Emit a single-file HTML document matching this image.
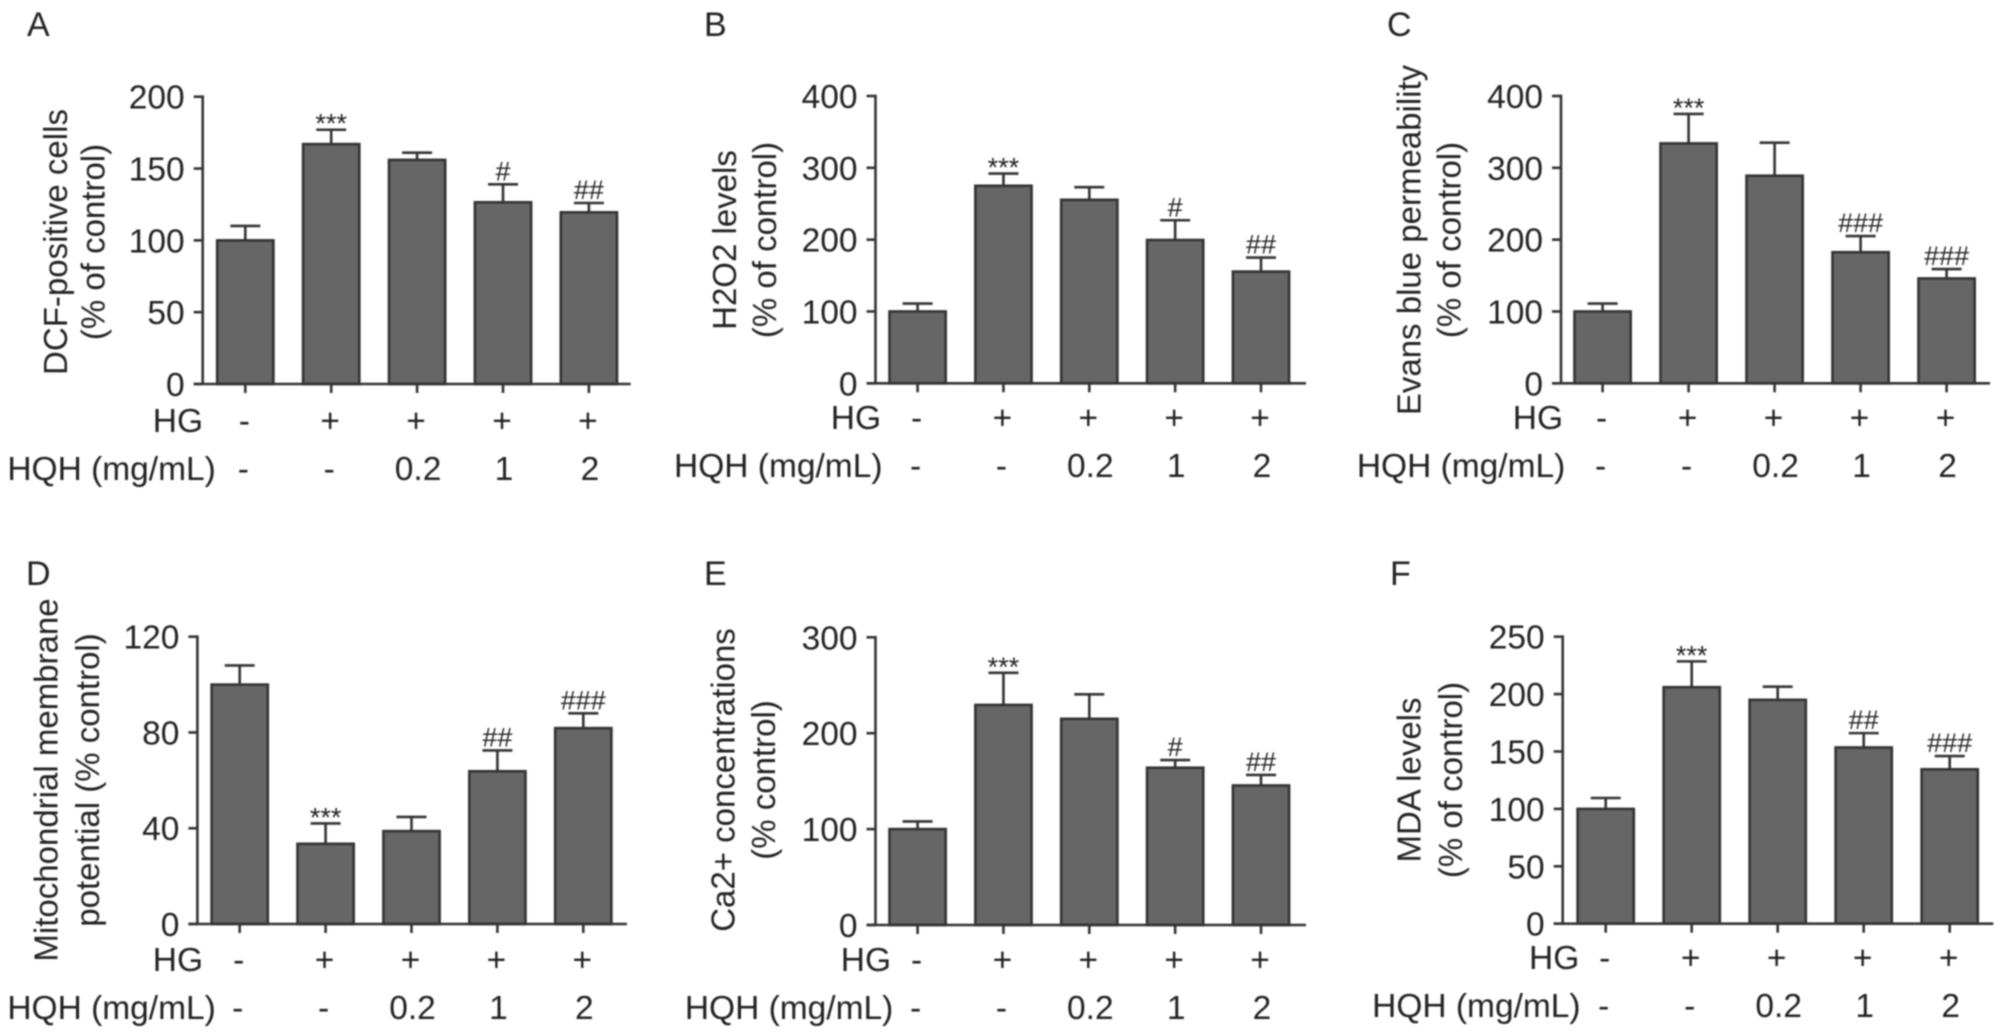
<!DOCTYPE html>
<html lang="en">
<head>
<meta charset="utf-8">
<title>HQH effects on oxidative stress markers</title>
<style>
  html, body { margin: 0; padding: 0; background: #fff; }
  body { width: 2004px; height: 1036px; overflow: hidden; }
  svg { display: block; filter: blur(0.75px); }
  text { font-family: "Liberation Sans", sans-serif; fill: #222222; }
</style>
</head>
<body>
<svg id="figure" xmlns="http://www.w3.org/2000/svg" width="2004" height="1036" viewBox="0 0 2004 1036"></svg>
<script>
const hgLabels = ['-', '+', '+', '+', '+'];
const hqhLabels = ['-', '-', '0.2', '1', '2'];

const aValues = [100, 167, 156, 126.5, 119.5];
const aErrors = [10, 10, 5, 12.5, 6.5];
const aTicks = [0, 50, 100, 150, 200];
const aSig = ['', '***', '', '#', '##'];

const bValues = [100, 275, 255.5, 199.5, 155.5];
const bErrors = [11, 17, 17.5, 27.5, 19.5];
const bTicks = [0, 100, 200, 300, 400];
const bSig = ['', '***', '', '#', '##'];

const cValues = [100, 334, 289, 182.5, 146];
const cErrors = [11, 41, 46, 22.5, 13];
const cTicks = [0, 100, 200, 300, 400];
const cSig = ['', '***', '', '###', '###'];

const dValues = [100, 33.5, 38.8, 63.8, 81.8];
const dErrors = [8, 8.5, 5.9, 8.7, 6.2];
const dTicks = [0, 40, 80, 120];
const dSig = ['', '***', '', '##', '###'];

const eValues = [100, 229.5, 215, 164, 145.5];
const eErrors = [8, 33.5, 25.5, 8, 11];
const eTicks = [0, 100, 200, 300];
const eSig = ['', '***', '', '#', '##'];

const fValues = [100, 206, 195, 153.5, 134.5];
const fErrors = [9.5, 22.5, 11.5, 12.5, 11.5];
const fTicks = [0, 50, 100, 150, 200, 250];
const fSig = ['', '***', '', '##', '###'];

const SVG_NS = 'http://www.w3.org/2000/svg';
const root = document.getElementById('figure');
const INK = '#333333';
const BAR_FILL = '#666666';
const STROKE = 2.6;
const FONT = 33.5;
const TITLE_FONT = 33;
const SIG_FONT = 27;

function makeLine(parent, x1, y1, x2, y2) {
  const el = document.createElementNS(SVG_NS, 'line');
  el.setAttribute('x1', x1);
  el.setAttribute('y1', y1);
  el.setAttribute('x2', x2);
  el.setAttribute('y2', y2);
  el.setAttribute('stroke', INK);
  el.setAttribute('stroke-width', STROKE);
  parent.appendChild(el);
  return el;
}

function makeText(parent, str, x, y, anchor, size, rotate) {
  const el = document.createElementNS(SVG_NS, 'text');
  el.textContent = str;
  el.setAttribute('text-anchor', anchor);
  el.setAttribute('font-size', size);
  if (rotate) {
    el.setAttribute('transform', 'translate(' + x + ' ' + y + ') rotate(-90)');
  } else {
    el.setAttribute('x', x);
    el.setAttribute('y', y);
  }
  parent.appendChild(el);
  return el;
}

function drawPanel(p) {
  const g = document.createElementNS(SVG_NS, 'g');
  
  
  root.appendChild(g);

  const maxTick = p.ticks[p.ticks.length - 1];
  const yScale = function (v) { return p.y0 - (v / maxTick) * (p.y0 - p.yTop); };
  const xScale = function (i) { return p.x0 + i * p.step; };
  const barW = 56.2;
  const capW = 30;

  const letter = makeText(g, p.letter, p.letterX, p.letterY, 'start', 34);
  
  

  const t1 = makeText(g, p.title1, p.title1X, p.titleY, 'middle', TITLE_FONT, true);
  
  
  const t2 = makeText(g, p.title2, p.title2X, p.titleY, 'middle', TITLE_FONT, true);
  
  

  p.values.forEach(function (v, i) {
    const cx = xScale(i);
    const top = yScale(v + p.errors[i]);
    const stem = makeLine(g, cx, yScale(v), cx, top);
    
    
    const cap = makeLine(g, cx - capW / 2, top, cx + capW / 2, top);
    
    

    const bar = document.createElementNS(SVG_NS, 'rect');
    bar.setAttribute('x', cx - barW / 2);
    bar.setAttribute('y', yScale(v));
    bar.setAttribute('width', barW);
    bar.setAttribute('height', p.y0 - yScale(v));
    bar.setAttribute('fill', BAR_FILL);
    bar.setAttribute('stroke', INK);
    bar.setAttribute('stroke-width', STROKE);
    
    
    g.appendChild(bar);

    const s = p.sig[i];
    if (s) {
      const baseline = s === '***' ? top + 3 : top - 4;
      const sig = makeText(g, s, cx, baseline, 'middle', SIG_FONT);
      
      
    }

    const tick = makeLine(g, cx, p.y0, cx, p.y0 + 9);
    
    

    const hg = makeText(g, hgLabels[i], cx - 1, p.hgY, 'middle', FONT);
    
    
    const hqh = makeText(g, hqhLabels[i], cx + (hqhLabels[i] === '-' ? -2 : 1), p.hqhY, 'middle', FONT);
    
    
  });

  const yAxis = makeLine(g, p.axisX, p.yTop - 1.3, p.axisX, p.y0);
  
  
  const xAxis = makeLine(g, p.axisX - 9, p.y0, p.axisEnd, p.y0);
  
  

  p.ticks.forEach(function (t) {
    const yy = yScale(t);
    const tick = makeLine(g, p.axisX - 9, yy, p.axisX, yy);
    
    
    const lab = makeText(g, String(t), p.axisX - 18, yy + 12, 'end', FONT);
    
    
  });

  const hgName = makeText(g, 'HG', p.hgEnd, p.hgY, 'end', FONT);
  
  
  const hqhName = makeText(g, 'HQH (mg/mL)', p.hqhEnd, p.hqhY, 'end', FONT);
  
  
}

drawPanel({ letter: 'A', values: aValues, errors: aErrors, ticks: aTicks, sig: aSig,
  x0: 245.3, step: 85.9, axisX: 202.7, axisEnd: 630.7, y0: 384, yTop: 96.7,
  letterX: 27, letterY: 36, title1: 'DCF-positive cells', title2: '(% of control)',
  title1X: 67, title2X: 104.7, titleY: 242, hgY: 432, hqhY: 480, hgEnd: 203, hqhEnd: 215.8 });

drawPanel({ letter: 'B', values: bValues, errors: bErrors, ticks: bTicks, sig: bSig,
  x0: 917.6, step: 85.85, axisX: 875.5, axisEnd: 1306, y0: 383.3, yTop: 96,
  letterX: 704, letterY: 36, title1: 'H2O2 levels', title2: '(% of control)',
  title1X: 736, title2X: 776, titleY: 240, hgY: 429, hqhY: 477, hgEnd: 881, hqhEnd: 882.5 });

drawPanel({ letter: 'C', values: cValues, errors: cErrors, ticks: cTicks, sig: cSig,
  x0: 1602.6, step: 86, axisX: 1561, axisEnd: 1990, y0: 383.3, yTop: 96,
  letterX: 1387, letterY: 36, title1: 'Evans blue permeability', title2: '(% of control)',
  title1X: 1420.5, title2X: 1460.7, titleY: 240, hgY: 429, hqhY: 477, hgEnd: 1563, hqhEnd: 1565.3 });

drawPanel({ letter: 'D', values: dValues, errors: dErrors, ticks: dTicks, sig: dSig,
  x0: 239.7, step: 85.9, axisX: 197.4, axisEnd: 627, y0: 924, yTop: 636.7,
  letterX: 26, letterY: 585, title1: 'Mitochondrial membrane', title2: 'potential (% control)',
  title1X: 57.7, title2X: 99, titleY: 780, hgY: 971, hqhY: 1019, hgEnd: 203, hqhEnd: 215.8 });

drawPanel({ letter: 'E', values: eValues, errors: eErrors, ticks: eTicks, sig: eSig,
  x0: 917.6, step: 85.85, axisX: 875.5, axisEnd: 1306, y0: 925, yTop: 637.3,
  letterX: 704, letterY: 585, title1: 'Ca2+ concentrations', title2: '(% control)',
  title1X: 734.6, title2X: 775, titleY: 780, hgY: 971, hqhY: 1019, hgEnd: 891, hqhEnd: 893.3 });

drawPanel({ letter: 'F', values: fValues, errors: fErrors, ticks: fTicks, sig: fSig,
  x0: 1605.7, step: 86, axisX: 1562.7, axisEnd: 1993.3, y0: 923.7, yTop: 636.7,
  letterX: 1390, letterY: 585, title1: 'MDA levels', title2: '(% of control)',
  title1X: 1420.5, title2X: 1462, titleY: 780, hgY: 969, hqhY: 1017, hgEnd: 1579.3, hqhEnd: 1580.6 });
</script>
</body>
</html>
